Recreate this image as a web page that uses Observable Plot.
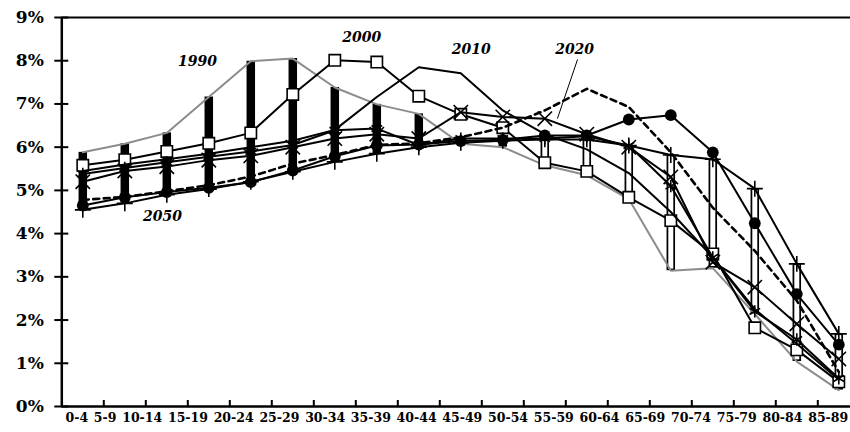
<!DOCTYPE html>
<html><head><meta charset="utf-8">
<script src="https://cdn.jsdelivr.net/npm/d3@7"></script>
<script src="https://cdn.jsdelivr.net/npm/@observablehq/plot@0.6"></script>
<style>
html,body{margin:0;padding:0;background:#fff;overflow:hidden;}
#chart svg{overflow:hidden;}
</style></head><body><div id="chart"></div>
<script>
// ---- data ----
// 19 age groups are plotted; the reference only shows labels for the first 18
const ages = ["0-4","5-9","10-14","15-19","20-24","25-29","30-34","35-39","40-44","45-49","50-54","55-59","60-64","65-69","70-74","75-79","80-84","85-89","90+"];
const tickLabels = ages.slice(0, 18);
const yTicks = [0,1,2,3,4,5,6,7,8,9];
const s1990 = [5.88, 6.08, 6.33, 7.16, 7.99, 8.05, 7.38, 6.99, 6.77, 6.08, 6.00, 5.58, 5.35, 4.80, 3.14, 3.20, 2.14, 1.04, 0.38];
const s2000 = [5.58, 5.71, 5.90, 6.09, 6.33, 7.22, 8.01, 7.97, 7.18, 6.76, 6.45, 5.64, 5.44, 4.84, 4.30, 3.53, 1.82, 1.31, 0.57];
const s2010 = [5.45, 5.60, 5.72, 5.85, 6.00, 6.15, 6.40, 7.16, 7.85, 7.71, 6.85, 6.30, 5.95, 5.40, 4.50, 3.45, 2.25, 1.45, 0.62];
const s2020 = [4.78, 4.85, 4.98, 5.12, 5.32, 5.62, 5.82, 6.05, 6.09, 6.23, 6.45, 6.85, 7.35, 6.93, 5.88, 4.60, 3.60, 2.45, 0.80];
const sX    = [5.20, 5.45, 5.55, 5.70, 5.80, 6.00, 6.20, 6.30, 6.20, 6.81, 6.70, 6.66, 6.30, 6.00, 5.31, 3.34, 2.76, 1.91, 1.10];
const sStar = [5.38, 5.52, 5.65, 5.78, 5.90, 6.05, 6.39, 6.43, 6.05, 6.20, 6.20, 6.20, 6.25, 6.04, 5.10, 3.45, 2.20, 1.55, 0.65];
const sDot  = [4.65, 4.84, 4.96, 5.06, 5.19, 5.46, 5.79, 6.04, 6.06, 6.14, 6.17, 6.27, 6.27, 6.64, 6.74, 5.88, 4.24, 2.60, 1.43];
const s2050 = [4.55, 4.70, 4.90, 5.03, 5.20, 5.43, 5.66, 5.85, 6.00, 6.10, 6.15, 6.18, 6.18, 6.04, 5.82, 5.72, 5.04, 3.30, 1.68];
const yearLabels = ["1990","2000","2010","2020","2050"];

// ---- styling per series (separate from the data) ----
const series = [
  {values: s1990, stroke: "#8c8c8c"},
  {values: s2000, stroke: "black", symbol: "square", r: 6.4, fill: "white"},
  {values: s2010, stroke: "black"},
  {values: s2020, stroke: "black", dash: "6,4.5", width: 2.6},
  {values: sX,    stroke: "black", symbol: "times", r: 6.6, fill: "none"},
  {values: sStar, stroke: "black", symbol: "asterisk", r: 5.8, fill: "none"},
  {values: sDot,  stroke: "black", symbol: "circle", r: 5.9, fill: "black"},
  {values: s2050, stroke: "black", symbol: "plus", r: 5.2, fill: "none"}
];
const rowsOf = vals => vals.map((v, i) => ({i, v}));

// up / down bars between first (1990) and last (2050) series
const bars = ages.map((a, i) => ({i, top: Math.max(s1990[i], s2050[i]), bottom: Math.min(s1990[i], s2050[i]), up: s2050[i] > s1990[i]}));

const marks = [];
marks.push(Plot.ruleX(bars, {x: "i", y1: "top", y2: "bottom", stroke: "black", strokeWidth: 8.5}));
marks.push(Plot.ruleX(bars.filter(d => d.up), {x: "i", y1: "top", y2: "bottom", stroke: "white", strokeWidth: 5, insetTop: 1.7, insetBottom: 1.7}));

for (const s of series) {
  const rows = rowsOf(s.values);
  marks.push(Plot.line(rows, {x: "i", y: "v", stroke: s.stroke, strokeWidth: s.width || 2, strokeDasharray: s.dash || null, strokeLinejoin: "miter"}));
  if (s.symbol) {
    marks.push(Plot.dot(rows, {x: "i", y: "v", symbol: s.symbol, r: s.r, fill: s.fill, stroke: "black", strokeWidth: s.symbol === "circle" ? 0 : 1.6}));
  }
}

// annotations
const ann = [
  {label: yearLabels[0], i: 2.73, v: 7.99},
  {label: yearLabels[1], i: 6.64, v: 8.53},
  {label: yearLabels[2], i: 9.25, v: 8.26},
  {label: yearLabels[3], i: 11.71, v: 8.26},
  {label: yearLabels[4], i: 1.90, v: 4.40}
];
marks.push(Plot.text(ann, {x: "i", y: "v", text: "label", fontFamily: "DejaVu Serif", fontWeight: "bold", fontStyle: "italic", fontSize: 14, fill: "black", textAnchor: "middle", lineAnchor: "middle"}));
marks.push(Plot.link([{x1: 11.78, y1: 8.03, x2: 11.30, y2: 6.66}], {x1: "x1", y1: "y1", x2: "x2", y2: "y2", stroke: "black", strokeWidth: 1}));

// frame lines
marks.push(Plot.ruleY([9], {stroke: "black", strokeWidth: 2}));
marks.push(Plot.ruleY([0], {stroke: "black", strokeWidth: 2.5}));
marks.push(Plot.ruleX([-0.5], {stroke: "black", strokeWidth: 2.5}));

// axes
marks.push(Plot.axisY({ticks: yTicks, tickFormat: d => d + "%", tickSize: 14, dx: 7, tickPadding: 11, fontSize: 17, fontWeight: "bold", fontFamily: "DejaVu Serif", strokeWidth: 2, label: null, fill: "black"}));
marks.push(Plot.axisX({ticks: d3.range(0.5, 18, 1), tickFormat: () => "", tickSize: 6, dy: -6, strokeWidth: 2, label: null}));
marks.push(Plot.axisX({ticks: d3.range(0, tickLabels.length), tickFormat: i => tickLabels[i], tickSize: 0, tickPadding: 7, fontSize: 12.5, fontWeight: "bold", fontFamily: "DejaVu Serif", label: null, fill: "black", ariaLabel: "x-labels"}));

const chart = Plot.plot({
  width: 850, height: 432,
  marginLeft: 61.3, marginRight: 0, marginTop: 17, marginBottom: 26,
  style: {fontFamily: "DejaVu Serif", background: "white", overflow: "hidden"},
  x: {type: "linear", domain: [-0.5, 18.5], range: [61.3, 859.3]},
  y: {domain: [0, 9], range: [406, 17]},
  marks
});
document.getElementById("chart").appendChild(chart);

// flow the category labels left to right, one space apart, as in the reference
const labels = chart.querySelectorAll('g[aria-label="x-labels tick label"] text, g[aria-label="x-axis tick label"] text');
const list = Array.from(labels).filter(t => t.textContent.length > 0);
let cursor = 65;
const gap = 5.75;
for (const t of list) {
  const w = t.getComputedTextLength();
  let y = 0;
  const tr = t.getAttribute("transform");
  if (tr) {
    const m = tr.match(/translate\(([^,\s]+)[,\s]+([^)]+)\)/);
    if (m) y = +m[2];
  } else {
    y = +(t.getAttribute("y") || 0);
  }
  t.removeAttribute("x");
  t.setAttribute("text-anchor", "middle");
  t.setAttribute("transform", `translate(${cursor + w / 2},${y})`);
  cursor += w + gap;
}
</script></body></html>
